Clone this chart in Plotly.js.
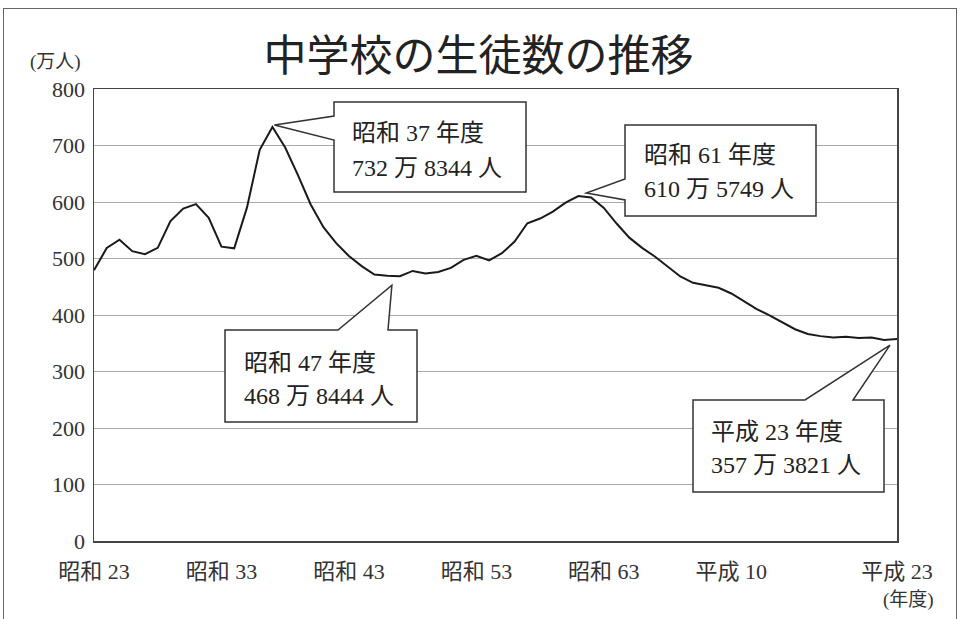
<!DOCTYPE html>
<html>
<head>
<meta charset="utf-8">
<script src="https://cdn.plot.ly/plotly-3.0.1.min.js"></script>
<style>
  html, body { margin: 0; padding: 0; background: #fff; }
  #wrap { position: relative; width: 961px; height: 619px; overflow: hidden; }
  #frame { position: absolute; left: 3px; top: 8px; width: 954px; height: 640px; border: 1.5px solid #666; box-sizing: border-box; }
  #chart { position: absolute; left: 0; top: 0; width: 961px; height: 619px; }
</style>
</head>
<body>
<div id="wrap">
  <div id="frame"></div>
  <div id="chart"></div>
</div>
<script>
// ---- data (万人) ----
const years = [1948,1949,1950,1951,1952,1953,1954,1955,1956,1957,
               1958,1959,1960,1961,1962,1963,1964,1965,1966,1967,
               1968,1969,1970,1971,1972,1973,1974,1975,1976,1977,
               1978,1979,1980,1981,1982,1983,1984,1985,1986,1987,
               1988,1989,1990,1991,1992,1993,1994,1995,1996,1997,
               1998,1999,2000,2001,2002,2003,2004,2005,2006,2007,
               2008,2009,2010,2011];
const students = [479.3,518.6,533.3,512.9,507.6,518.8,566.4,588.4,596.2,571.8,
                  521.0,518.0,590.0,692.4,732.8,696.3,647.6,595.7,555.5,527.1,
                  504.3,486.5,471.7,469.4,468.8,478.0,473.6,476.2,483.4,497.7,
                  504.8,496.6,509.4,529.9,562.4,570.7,582.9,599.0,610.6,608.1,
                  589.6,561.9,536.9,518.8,503.6,485.0,468.1,457.0,452.7,448.1,
                  438.1,424.4,410.4,399.2,386.3,374.8,366.4,362.6,360.2,361.5,
                  359.2,360.0,355.8,357.4];
const tickYears  = [1948,1958,1968,1978,1988,1998,2011];
const tickLabels = ["昭和 23","昭和 33","昭和 43","昭和 53","昭和 63","平成 10","平成 23"];
const calloutYears = [1962, 1986, 1972, 2011];
const calloutLine1 = ["昭和 37 年度","昭和 61 年度","昭和 47 年度","平成 23 年度"];
const calloutLine2 = ["732 万 8344 人","610 万 5749 人","468 万 8444 人","357 万 3821 人"];

// ---- layout geometry (pixels) ----
const L = 94, R = 897, T = 89, B = 541, W = 961, H = 619;
const X0 = 1948, X1 = 2011, Y0 = 0, Y1 = 800;
const px2x = p => X0 + (p - L) / (R - L) * (X1 - X0);
const py2y = p => Y1 - (p - T) / (B - T) * (Y1 - Y0);
const x2px = x => L + (x - X0) / (X1 - X0) * (R - L);
const y2py = y => T + (Y1 - y) / (Y1 - Y0) * (B - T);
const px2paper = p => (p - L) / (R - L);
const py2paper = p => (B - p) / (B - T);

// callout boxes: box [x0,y0,x1,y1], wedge side and base points, tip pixel offset, text anchor
const callouts = [
  {box:[334,102,526,192], side:'left', base:[116,140], off:[2,-2], tx:350, ty:[133,168]},
  {box:[625,125,816,216], side:'left', base:[179,200], off:[8,-3], tx:642, ty:[155,189]},
  {box:[225,330,417,422], side:'top',  base:[338,388], off:[-8,9], tx:242, ty:[363,396]},
  {box:[693,400,884,492], side:'top',  base:[805,853], off:[-7,6], tx:709, ty:[432,465]}
];

const serif = "'Liberation Serif', 'Times New Roman', 'Noto Sans CJK JP', serif";
const shapes = [];
const annotations = [];

callouts.forEach((c, i) => {
  const idx = years.indexOf(calloutYears[i]);
  const tipPx = x2px(years[idx]) + c.off[0];
  const tipPy = y2py(students[idx]) + c.off[1];
  const [bx0, by0, bx1, by1] = c.box;
  let pts;
  if (c.side === 'left') {
    pts = [[bx0,by0],[bx1,by0],[bx1,by1],[bx0,by1],[bx0,c.base[1]],[tipPx,tipPy],[bx0,c.base[0]]];
  } else {
    pts = [[bx0,by0],[c.base[0],by0],[tipPx,tipPy],[c.base[1],by0],[bx1,by0],[bx1,by1],[bx0,by1]];
  }
  const path = pts.map((p, k) => (k ? 'L' : 'M') + px2x(p[0]) + ',' + py2y(p[1])).join(' ') + ' Z';
  shapes.push({type:'path', xref:'x', yref:'y', path: path,
               fillcolor:'#ffffff', line:{color:'#333333', width:1.5}, layer:'above'});
  [calloutLine1[i], calloutLine2[i]].forEach((t, k) => {
    annotations.push({xref:'x', yref:'y', x: px2x(c.tx), y: py2y(c.ty[k]),
      xanchor:'left', yanchor:'middle', showarrow:false, text:t,
      font:{family: serif, size: 24, color:'#222'}});
  });
});

annotations.push({xref:'paper', yref:'paper', x: px2paper(83), y: py2paper(62),
  xanchor:'right', yanchor:'middle', showarrow:false, text:'(万人)',
  font:{family: serif, size: 19, color:'#333'}});
annotations.push({xref:'paper', yref:'paper', x: px2paper(936), y: py2paper(600),
  xanchor:'right', yanchor:'middle', showarrow:false, text:'(年度)',
  font:{family: serif, size: 19, color:'#333'}});

const trace = {
  x: years, y: students, type:'scatter', mode:'lines',
  line:{color:'#1a1a1a', width:2}, hoverinfo:'x+y'
};

const layout = {
  width: W, height: H,
  margin:{l:L, r:W-R, t:T, b:H-B, pad:0},
  paper_bgcolor:'rgba(0,0,0,0)', plot_bgcolor:'#ffffff',
  showlegend:false,
  title:{text:'中学校の生徒数の推移', x:0.498, xanchor:'center', y:1-56/H, yanchor:'middle',
         font:{family:"'Noto Sans CJK JP', 'Noto Sans', sans-serif", size:43, color:'#222'}},
  xaxis:{range:[X0, X1], tickvals: tickYears, ticktext: tickLabels,
         showgrid:false, zeroline:false, showline:true, mirror:true,
         linecolor:'#444', linewidth:1.5, ticks:'', ticklabelstandoff:10,
         tickfont:{family: serif, size:22, color:'#333'}},
  yaxis:{range:[Y0, Y1], dtick:100, tick0:0,
         showgrid:true, gridcolor:'#aaaaaa', gridwidth:1, zeroline:false,
         showline:true, mirror:true, linecolor:'#444', linewidth:1.5,
         ticks:'', ticklabelstandoff:3,
         tickfont:{family: serif, size:22, color:'#333'}},
  shapes: shapes,
  annotations: annotations
};

Plotly.newPlot('chart', [trace], layout, {displayModeBar:false, staticPlot:true});
</script>
</body>
</html>
